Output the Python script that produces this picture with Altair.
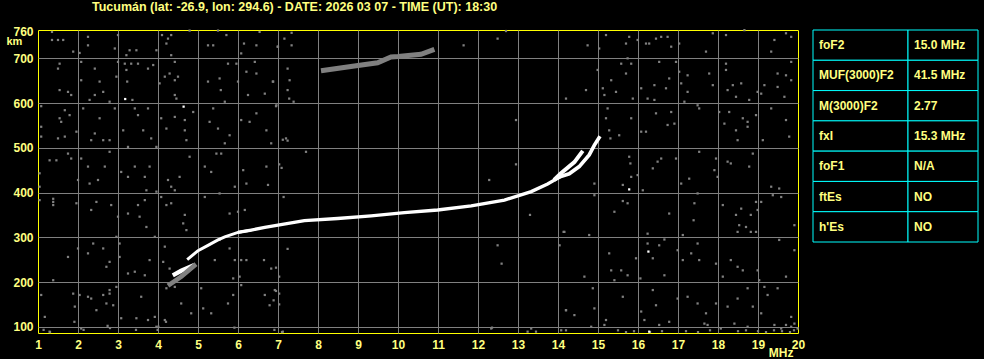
import altair as alt
import pandas as pd

TITLE = "Tucumán (lat: -26.9, lon: 294.6) - DATE: 2026 03 07 - TIME (UT): 18:30"
x_ticks = list(range(1, 21))
y_ticks = [100, 200, 300, 400, 500, 600, 700, 760]

params = ["foF2", "MUF(3000)F2", "M(3000)F2", "fxI", "foF1", "ftEs", "h'Es"]
values = ["15.0 MHz", "41.5 MHz", "2.77", "15.3 MHz", "N/A", "NO", "NO"]

# ionogram traces (MHz, km)
start_freq = [4.73, 5.0, 5.25, 5.5, 5.67, 6.0, 6.33]
start_height = [250, 270, 282, 294, 301, 311, 316]
main_freq = [6.0, 6.33, 6.67, 7.0, 7.66, 8.49, 9.33, 10.16, 10.99, 11.83, 12.66, 13.33, 13.74, 14.07]
main_height = [311, 316, 322, 327, 337, 342, 348, 355, 361, 370, 383, 402, 419, 436]
branch_o_freq = [13.9, 14.07, 14.28, 14.53, 14.78, 14.91, 15.05]
branch_o_height = [428, 436, 442, 458, 484, 506, 526]
branch_x_freq = [13.9, 14.075, 14.41, 14.62]
branch_x_height = [428, 443, 468, 493]
low_freq = [4.37, 4.58, 4.91]
low_height = [215, 225, 238]
low_faint_freq = [4.25, 4.58, 4.95]
low_faint_height = [192, 212, 240]
echo_freq = [8.075, 8.91, 9.49, 9.825, 10.0, 10.575, 10.91]
echo_height = [672, 683, 690, 703, 704, 709, 720]

noise_points = [
    (1.35,759),(1.35,741),(1.5,741),(1.63,741),(2.25,748),(2.25,729),(1.88,715),(2.04,712),(3.0,752),(2.92,722),
    (3.21,707),(3.29,718),(3.46,718),(3.96,718),(4.1,752),(4.25,744),(4.33,752),(4.33,707),(4.21,733),(4.79,762),
    (5.25,729),(5.38,729),(5.5,762),(5.71,752),(6.08,711),(6.15,733),(6.54,759),(6.46,729),(7.0,726),
    (1.54,688),(1.5,677),(2.08,692),(2.42,677),(2.54,648),(2.08,651),(3.0,692),(3.17,688),(3.33,688),(3.5,688),
    (3.21,674),(3.23,648),(2.96,659),(1.54,629),(1.75,625),(1.83,618),(2.29,607),(2.42,618),(2.63,625),(2.79,603),
    (3.36,607),(3.75,677),(3.88,685),(4.04,644),(4.17,659),(4.29,666),(4.42,651),(4.5,659),(4.42,692),(4.42,618),
    (4.46,610),(5.25,648),(5.54,655),(5.57,629),(5.75,688),(5.96,688),(6.0,648),(6.21,670),(6.42,692),(6.46,666),
    (6.25,618),(6.67,621),(6.88,648),(5.67,603),
    (1.08,593),(1.08,547),(1.08,525),(1.54,566),(1.58,558),(1.67,584),(1.79,573),(1.5,521),(1.67,525),(2.13,588),
    (1.96,536),(2.33,517),(2.42,532),(2.54,566),(2.63,517),(2.79,517),(2.92,588),(3.13,539),(3.25,502),(3.42,588),
    (3.5,573),(3.63,539),(3.75,588),(3.83,521),(3.96,502),(4.08,566),(4.21,543),(4.42,569),(4.67,562),
    (4.67,539),(4.71,517),(4.88,580),(5.29,558),(5.38,588),(5.5,543),(5.79,528),(5.67,510),(6.08,562),(6.29,558),
    (6.46,577),(6.71,539),(6.96,595),(6.83,510),
    (1.04,443),(1.04,413),(1.29,472),(1.46,472),(1.75,487),(1.83,476),(2.0,428),(2.08,476),(2.25,458),(2.29,420),
    (2.5,428),(2.67,458),(2.79,491),(3.08,446),(3.25,435),(3.42,458),(3.67,435),(3.71,405),(3.79,458),(3.96,402),
    (4.25,428),(4.33,413),(4.42,405),(4.54,435),(4.79,480),(5.17,458),(5.33,446),(5.46,487),(5.58,487),(5.92,413),
    (6.13,450),(6.21,420),(6.71,458),(6.75,417),
    (1.04,383),(1.38,379),(1.38,372),(1.38,386),(1.96,376),(2.33,361),(2.46,379),(2.83,372),(3.0,346),(2.96,301),
    (3.25,353),(3.5,372),(3.54,346),(3.67,383),(3.71,323),(3.92,301),(4.08,390),(4.21,372),(4.33,376),(4.67,350),
    (4.63,331),(4.71,316),(5.17,390),(5.54,398),(5.79,353),(6.0,357),(6.17,361),
    (1.75,256),(2.0,275),(2.25,264),(2.38,286),(2.63,275),(2.71,234),(2.79,245),(3.04,256),(3.04,286),(3.25,219),
    (3.42,223),(3.67,215),(3.79,249),(4.13,245),(4.29,230),(4.17,279),(5.0,268),(5.42,249),(5.54,294),(5.79,275),
    (5.92,249),(5.88,208),(6.08,249),(6.21,249),(6.04,212),(6.65,249),(6.83,230),
    (1.08,171),(1.38,204),(1.88,174),(1.92,145),(2.04,171),(2.25,167),(2.33,163),(2.46,137),(2.63,171),(2.71,152),
    (2.79,174),(2.79,182),(2.88,148),(2.96,189),(3.08,119),(3.46,119),(3.58,167),(3.75,115),(3.92,122),(3.96,100),
    (4.21,186),(4.17,115),(4.42,189),(4.58,152),(4.83,130),(5.08,186),(5.13,141),(5.33,130),(5.75,152),(5.88,171),
    (6.08,193),(6.67,171),(6.79,148),(6.92,182),(1.17,122),(1.29,89),(2.08,96),
    (1.14,93),(1.3,88),(1.91,111),(2.14,93),(2.74,102),(2.8,97),(3.45,93),(3.99,93),(4.01,100),(4.2,111),
    (5.91,98),(6.91,93),(7.1,88),(12.35,98),
    (6.99,726),(7.16,744),(7.34,757),(7.34,729),(11.64,729),(12.49,744),(12.7,761),(7.24,677),(7.29,651),(7.24,629),
    (7.28,610),(7.39,603),(6.95,593),(6.87,648),(7.12,518),(7.2,521),(7.24,516),(7.7,491),(7.03,463),(7.09,455),
    (7.14,390),(12.95,562),(14.2,610),(12.95,463),(12.28,428),(13.3,350),(14.14,312),(14.04,282),(12.49,282),
    (12.59,241),(7.24,274),(6.95,232),(7.03,212),(6.95,180),(7.03,174),(6.89,159),(7.03,150),(14.2,137),(12.33,96),
    (13.24,89),(13.33,96),(13.45,89),(14.08,92),(14.2,92),(7.12,89),
    (14.74,729),(15.03,722),(15.2,752),(15.7,733),(15.78,748),(15.99,741),(16.2,733),(16.28,733),(16.45,744),
    (16.58,748),(16.74,748),(16.83,726),(17.03,733),(17.7,715),(17.87,756),(18.2,752),(18.66,763),(19.41,741),
    (19.33,715),(19.7,756),(19.83,748),(15.74,700),
    (14.7,629),(14.99,674),(15.12,633),(15.16,618),(15.33,651),(15.45,625),(15.58,688),(15.7,666),(15.83,688),
    (16.08,633),(15.87,610),(16.24,610),(16.41,607),(16.53,692),(16.41,640),(16.7,633),(16.78,655),(16.95,692),
    (17.03,670),(17.08,644),(17.24,662),(17.24,625),(17.78,666),(17.87,640),(17.16,603),(18.2,688),(18.2,674),
    (18.37,640),(18.58,644),(18.24,629),(18.45,614),(18.78,607),(18.99,625),(19.08,621),(19.16,640),(19.49,666),
    (19.7,662),(19.49,636),(19.66,614),(19.83,692),(19.83,651),
    (15.24,588),(15.2,566),(15.28,539),(15.31,521),(15.53,528),(15.83,566),(16.08,536),(16.2,536),(16.45,577),
    (16.83,580),(16.74,551),(16.91,554),(17.49,595),(17.53,588),(18.03,580),(18.16,554),(18.28,580),(18.45,539),
    (18.49,517),(18.62,566),(18.74,558),(18.74,547),(18.95,573),(19.33,588),(19.7,562),(19.78,525),(19.12,517),
    (15.78,480),(15.81,465),(15.83,435),(15.62,417),(15.99,439),(16.12,405),(16.37,454),(16.49,469),(16.58,476),
    (16.95,476),(17.08,420),(17.28,431),(17.53,491),(17.95,476),(17.91,450),(17.99,435),(18.24,469),(18.32,465),
    (18.78,458),(18.87,487),(19.33,413),(19.53,409),(14.91,420),
    (14.91,394),(15.41,357),(15.62,381),(15.74,376),(16.78,353),(17.41,376),(17.39,338),(17.49,398),(18.12,372),
    (18.45,350),(18.58,364),(18.82,350),(18.95,379),(19.08,379),(18.99,361),(19.37,394),(19.58,390),(19.91,327),
    (18.53,327),(18.7,323),(18.82,312),(18.49,312),(18.95,312),(14.16,312),(14.78,305),(16.24,308),(17.12,305),
    (16.24,286),(16.37,253),(16.53,282),(16.66,295),(16.99,271),(17.12,249),(17.33,264),(17.49,286),(17.53,249),
    (17.95,241),(18.12,212),(18.32,249),(18.49,234),(18.62,226),(18.99,226),(19.03,204),(19.53,294),(19.91,271),
    (19.7,212),(15.28,264),(15.33,226),(15.41,204),(15.58,226),(15.74,215),(15.95,253),(16.06,208),(16.66,215),
    (14.66,212),
    (14.2,137),(14.41,126),(14.87,186),(14.91,141),(14.83,100),(15.2,115),(15.16,104),(15.62,167),(16.08,134),
    (16.16,115),(16.37,182),(16.45,148),(16.53,104),(16.78,111),(16.99,163),(17.24,167),(17.49,152),(17.66,107),
    (17.7,130),(17.74,104),(17.95,152),(18.07,96),(18.24,145),(18.41,107),(18.49,163),(18.74,186),(18.87,145),
    (18.74,100),(19.08,130),(19.16,189),(19.24,171),(19.49,186),(19.41,104),(19.58,96),(19.7,104),(19.83,100),
    (19.91,107),(19.99,96),(19.83,122),
    (18.5,90),(18.7,92),(19.0,90),(19.2,88),(19.4,92),(19.6,90),(19.8,88),(19.9,92),(17.2,90),(17.5,88),
    (17.8,92),(16.6,90),(16.3,88),(15.5,92),(15.9,90),(15.7,88),
]
white_points = [(3.18, 609), (4.64, 592), (16.26, 268), (15.78, 407), (16.28, 89)]

FONT = "Liberation Sans"
YEL = "#ffff80"
GRAY = "#808080"

# ---------- data frames ----------
noise_df = pd.DataFrame(noise_points, columns=["freq", "height"])
white_df = pd.DataFrame(white_points, columns=["freq", "height"])

series_defs = [
    ("start", start_freq, start_height),
    ("main", main_freq, main_height),
    ("branch_o", branch_o_freq, branch_o_height),
    ("branch_x", branch_x_freq, branch_x_height),
    ("low", low_freq, low_height),
    ("low_faint", low_faint_freq, low_faint_height),
    ("echo", echo_freq, echo_height),
]
rows = []
for name, fs, hs in series_defs:
    for f, h in zip(fs, hs):
        rows.append({"series": name, "freq": f, "height": h})
trace_df = pd.DataFrame(rows)
series_names = [s[0] for s in series_defs]
series_colors = ["white", "white", "white", "white", "white", GRAY, GRAY]
series_widths = [3, 5, 2.5, 2.5, 2, 1.5, 2]

xs = alt.Scale(domain=[1, 20], nice=False, zero=False)
ys = alt.Scale(domain=[86, 763.3], nice=False, zero=False)

x_axis = alt.Axis(
    values=x_ticks, grid=True, gridColor=GRAY, gridWidth=1,
    gridOpacity={"condition": {"test": "datum.value == 1 || datum.value == 20", "value": 0}, "value": 1},
    domain=False, ticks=False, tickSize=0,
    labelColor=YEL, labelFont=FONT, labelFontSize=12, labelFontWeight="bold",
    labelPadding=15, labelBaseline="alphabetic", labelFlush=False, labelOverlap=False, labelBound=False,
    title="MHz", titleColor=YEL, titleFont=FONT, titleFontSize=12, titleFontWeight="bold",
    titleX=755, titleY=23, titleAlign="right", titleBaseline="alphabetic",
)
y_axis = alt.Axis(
    values=y_ticks, grid=True, gridColor=GRAY, gridWidth=1,
    gridOpacity={"condition": {"test": "datum.value == 760", "value": 0}, "value": 1},
    domain=False, ticks=False, tickSize=0,
    labelColor=YEL, labelFont=FONT, labelFontSize=12, labelFontWeight="bold",
    labelPadding=5, labelBaseline="middle", labelOverlap=False, labelBound=False, labelFlush=False,
    title="km", titleColor=YEL, titleFont=FONT, titleFontSize=11, titleFontWeight="bold",
    titleAngle=0, titleX=-32, titleY=14, titleAlign="left", titleBaseline="alphabetic",
)

X = alt.X("freq:Q", scale=xs, axis=x_axis)
Y = alt.Y("height:Q", scale=ys, axis=y_axis)

noise = alt.Chart(noise_df).mark_square(size=5, color=GRAY, opacity=1).encode(x=X, y=Y)
whites = alt.Chart(white_df).mark_square(size=5, color="white", opacity=1).encode(x=X, y=Y)
traces = alt.Chart(trace_df).mark_line(strokeCap="butt").encode(
    x=X,
    y=Y,
    detail="series:N",
    color=alt.Color("series:N", scale=alt.Scale(domain=series_names, range=series_colors), legend=None),
    strokeWidth=alt.StrokeWidth("series:N", scale=alt.Scale(domain=series_names, range=series_widths), legend=None),
)

main = alt.layer(noise, whites, traces).properties(
    width=760, height=303,
    title=alt.TitleParams(TITLE, anchor="start", frame="group", dx=54, color=YEL, font=FONT,
                          fontSize=12.5, fontWeight="bold", offset=12),
    view=alt.ViewBackground(stroke="#ffff00", strokeWidth=1),
)

# ---------- table ----------
tbl = pd.DataFrame({"param": params, "value": values})
row_enc = alt.Y("param:N", sort=params, axis=None, scale=alt.Scale(paddingInner=0, paddingOuter=0))


def column(field, w):
    cells = alt.Chart(tbl).mark_rect(fill="black", stroke="#00ffff", strokeWidth=1).encode(
        y=row_enc, x=alt.value(0), x2=alt.value(w)
    )
    text = alt.Chart(tbl).mark_text(
        align="left", baseline="middle", dx=6, font=FONT, fontSize=12, fontWeight="bold", color=YEL
    ).encode(y=row_enc, x=alt.value(0), text=f"{field}:N")
    return alt.layer(cells, text).properties(width=w, height=212)


table = alt.hconcat(column("param", 95), column("value", 70), spacing=0, bounds="flush")

chart = alt.hconcat(main, table, spacing=15, bounds="flush").properties(
    padding={"left": 5, "top": 0, "right": 5, "bottom": 0}
).configure(background="black").configure_view(stroke="transparent")

chart.save("out.html", embed_options={"renderer": "svg", "actions": False})
